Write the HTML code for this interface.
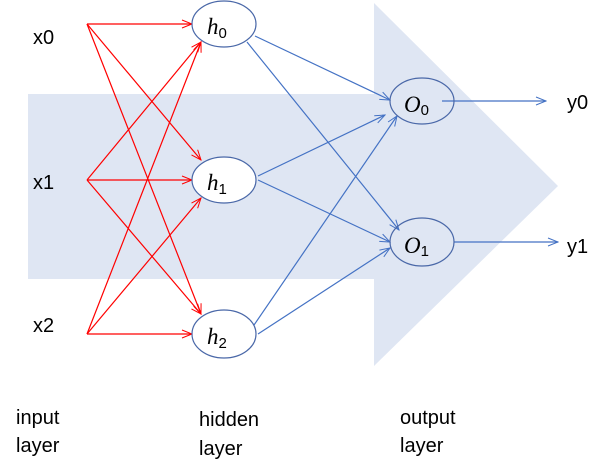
<!DOCTYPE html>
<html><head><meta charset="utf-8"><style>
html,body{margin:0;padding:0;background:#fff;}
svg{display:block;}
text{font-family:"Liberation Sans","Noto Sans CJK KR",sans-serif;fill:#000;}
.m{font-family:"Liberation Serif",serif;font-style:italic;}
.s{font-style:normal;font-family:"Liberation Sans",sans-serif;}
</style></head><body>
<svg width="609" height="476" viewBox="0 0 609 476" xmlns="http://www.w3.org/2000/svg">
<defs>
<marker id="ar" markerWidth="12" markerHeight="10" refX="11" refY="5" orient="auto" markerUnits="userSpaceOnUse"><path d="M1,1 L11,5 L1,9" fill="none" stroke="#f00" stroke-width="1"/></marker>
<marker id="ab" markerWidth="12" markerHeight="10" refX="11" refY="5" orient="auto" markerUnits="userSpaceOnUse"><path d="M1,1 L11,5 L1,9" fill="none" stroke="#4472c4" stroke-width="1"/></marker>
</defs>
<polygon points="28,94 374,94 374,3 558,186 374,366 374,279 28,279" fill="#dfe6f3"/>
<g stroke="#f00" stroke-width="1.2" fill="none" marker-end="url(#ar)">
<line x1="87" y1="24" x2="192" y2="24"/>
<line x1="87" y1="24" x2="201" y2="160"/>
<line x1="87" y1="24" x2="201" y2="314"/>
<line x1="87" y1="180" x2="201" y2="42"/>
<line x1="87" y1="180" x2="192" y2="180"/>
<line x1="87" y1="180" x2="201" y2="314"/>
<line x1="87" y1="334" x2="201" y2="42"/>
<line x1="87" y1="334" x2="201" y2="198"/>
<line x1="87" y1="334" x2="192" y2="334"/>
</g>
<g stroke="#4472c4" stroke-width="1.2" fill="none" marker-end="url(#ab)">
<line x1="255" y1="36" x2="390" y2="100"/>
<line x1="247" y1="42" x2="399" y2="230"/>
<line x1="258" y1="176" x2="385" y2="115"/>
<line x1="258" y1="180" x2="390" y2="242"/>
<line x1="252" y1="328" x2="397" y2="116"/>
<line x1="258" y1="334" x2="390" y2="248"/>
<line x1="442" y1="101" x2="546" y2="101"/>
<line x1="454" y1="242" x2="558" y2="242"/>
</g>
<g fill="#fff" stroke="#4a68a8" stroke-width="1.2">
<ellipse cx="224" cy="24" rx="32" ry="23"/>
<ellipse cx="224" cy="180" rx="32" ry="23"/>
<ellipse cx="224" cy="334" rx="32" ry="24"/>
<ellipse cx="422" cy="101" rx="32" ry="23" fill="none"/>
<ellipse cx="422" cy="242" rx="32" ry="24" fill="none"/>
</g>
<text class="m" x="207" y="34" font-size="23">h<tspan class="s" font-size="15" dy="4">0</tspan></text>
<text class="m" x="207" y="190" font-size="23">h<tspan class="s" font-size="15" dy="4">1</tspan></text>
<text class="m" x="207" y="344" font-size="23">h<tspan class="s" font-size="15" dy="4">2</tspan></text>
<text class="m" x="404" y="112" font-size="23">O<tspan class="s" font-size="15" dy="3">0</tspan></text>
<text class="m" x="404" y="253" font-size="23">O<tspan class="s" font-size="15" dy="3">1</tspan></text>
<g font-size="20">
<text x="33" y="44">x0</text>
<text x="33" y="189">x1</text>
<text x="33" y="332">x2</text>
<text x="567" y="109">y0</text>
<text x="567" y="253">y1</text>
<text x="16" y="424">input</text>
<text x="16" y="452">layer</text>
<text x="199" y="426">hidden</text>
<text x="199" y="455">layer</text>
<text x="400" y="424">output</text>
<text x="400" y="452">layer</text>
</g>
</svg>
</body></html>
